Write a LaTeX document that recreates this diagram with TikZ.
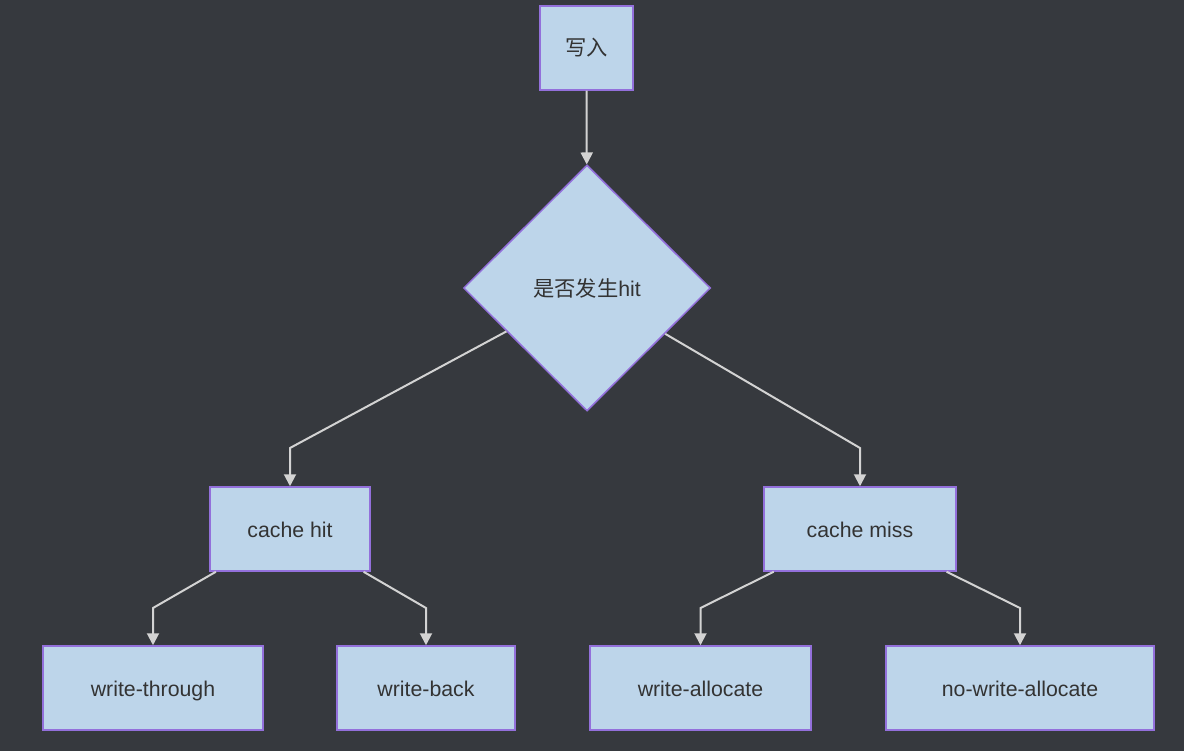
\documentclass[tikz,border=0pt]{standalone}
\usepackage{fontspec}
\setmainfont{Liberation Sans}
\newfontfamily\cjk{Noto Sans CJK SC}
\usetikzlibrary{arrows.meta,shapes.geometric}
\definecolor{bgc}{RGB}{54,57,62}
\definecolor{nodefill}{RGB}{189,213,234}
\definecolor{nodeline}{RGB}{147,112,219}
\definecolor{txt}{RGB}{51,51,51}
\definecolor{edgec}{RGB}{211,211,211}
\tikzset{
  box/.style={draw=nodeline, fill=nodefill, line width=1.5pt, text=txt, inner sep=0pt, text height=19pt, text depth=3pt, font=\fontsize{21.3}{25}\selectfont},
  decision/.style={diamond, aspect=1, draw=nodeline, fill=nodefill, line width=1.5pt, text=txt, inner sep=0pt, font=\fontsize{21.3}{25}\selectfont},
  conn/.style={draw=edgec, line width=2pt, -{Triangle[length=12pt,width=12pt]}},
}
\begin{document}
\begin{tikzpicture}[x=1pt,y=-1pt]
\fill[bgc] (0,0) rectangle (1184,751);
\useasboundingbox (0,0) rectangle (1184,751);
\node[box, minimum width=93pt, minimum height=84pt] (w) at (586.5,48) {\cjk 写入};
\node[decision, minimum width=247pt, minimum height=246pt] (d) at (587,288) {{\cjk 是否发生}hit};
\node[box, minimum width=160pt, minimum height=84pt] (ch) at (290,529) {cache hit};
\node[box, minimum width=192pt, minimum height=84pt] (cm) at (860,529) {cache miss};
\node[box, minimum width=220pt, minimum height=84pt] (wt) at (153,688) {write-through};
\node[box, minimum width=178pt, minimum height=84pt] (wb) at (426,688) {write-back};
\node[box, minimum width=221pt, minimum height=84pt] (wa) at (700.5,688) {write-allocate};
\node[box, minimum width=268pt, minimum height=84pt] (nwa) at (1020,688) {no-write-allocate};
\coordinate (b1) at (290,448);
\coordinate (b2) at (860,448);
\coordinate (b3) at (153,608);
\coordinate (b4) at (426,608);
\coordinate (b5) at (700.5,608);
\coordinate (b6) at (1020,608);
\draw[conn] (w) -- (d);
\draw[conn] (d) -- (b1) -- (ch);
\draw[conn] (d) -- (b2) -- (cm);
\draw[conn] (ch) -- (b3) -- (wt);
\draw[conn] (ch) -- (b4) -- (wb);
\draw[conn] (cm) -- (b5) -- (wa);
\draw[conn] (cm) -- (b6) -- (nwa);
\end{tikzpicture}
\end{document}
